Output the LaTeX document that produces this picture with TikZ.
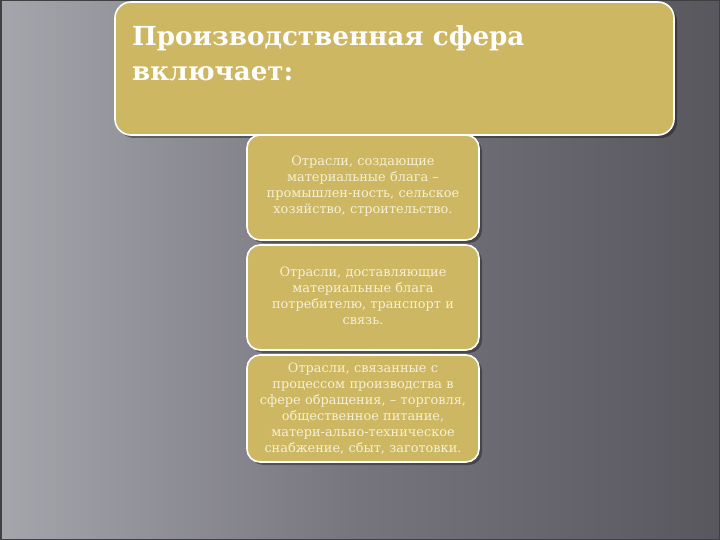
\documentclass[tikz,border=0pt]{standalone}
\usepackage{fontspec}
\setmainfont{DejaVu Serif}
\usetikzlibrary{shadows}
\definecolor{gold}{RGB}{205,183,98}
\definecolor{cream}{RGB}{246,240,214}
\definecolor{bgl}{RGB}{165,165,172}
\definecolor{bgm}{RGB}{118,117,125}
\definecolor{bgr}{RGB}{88,87,94}
\tikzset{
  goldbox/.style={draw=white, line width=1.6pt, fill=gold, rounded corners=13pt,
    drop shadow={shadow xshift=3pt, shadow yshift=-3pt, opacity=0.35, fill=black}},
  smalltext/.style={text=cream, font=\fontsize{12.9}{16}\selectfont, align=center, text width=228pt}
}
\begin{document}
\begin{tikzpicture}[x=1pt,y=-1pt]
\useasboundingbox (0,0) rectangle (720,540);
\shade[shading angle=110, left color=bgl, right color=bgr, middle color=bgm] (0,0) rectangle (720,540);
\draw[line width=1.5pt, color=black!75] (0.75,0.75) rectangle (719.25,539.25);
% big box
\draw[goldbox, rounded corners=16pt] (115,2) rectangle (674,135);
\node[anchor=north west, text=white, font=\bfseries\fontsize{26.2}{35}\selectfont, align=left, inner sep=0pt] (title) at (132,25) {Производственная сфера\\включает:};
% small boxes
\draw[goldbox] (247,135) rectangle (479,240);
\node[smalltext] (t1) at (363,186) {Отрасли, создающие\\материальные блага --\\промышлен-ность, сельское\\хозяйство, строительство.};
\draw[goldbox] (247,245) rectangle (479,350);
\node[smalltext] (t2) at (363,296) {Отрасли, доставляющие\\материальные блага\\потребителю, транспорт и\\связь.};
\draw[goldbox] (247,355) rectangle (479,462);
\node[smalltext] (t3) at (363,409) {Отрасли, связанные с\\процессом производства в\\сфере обращения, -- торговля,\\общественное питание,\\матери-ально-техническое\\снабжение, сбыт, заготовки.};
\end{tikzpicture}
\end{document}
